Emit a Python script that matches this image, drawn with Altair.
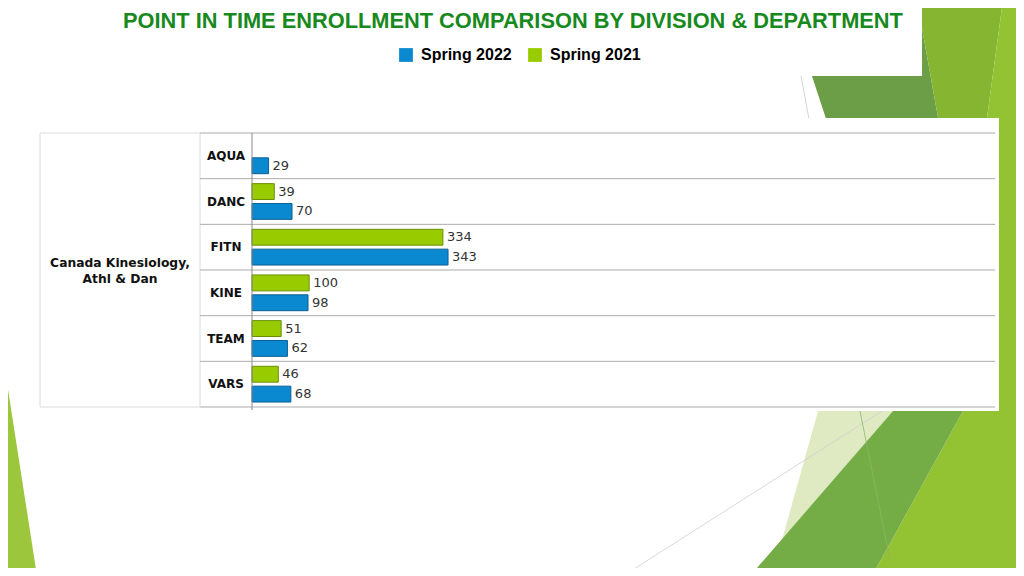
import altair as alt
import pandas as pd

# ---------------- data ----------------
TITLE = "POINT IN TIME ENROLLMENT COMPARISON BY DIVISION & DEPARTMENT"
DIVISION = ["Canada Kinesiology,", "Athl & Dan"]
DEPTS = ["AQUA", "DANC", "FITN", "KINE", "TEAM", "VARS"]
SERIES = ["Spring 2022", "Spring 2021"]
SPRING_2022 = [29, 70, 343, 98, 62, 68]
SPRING_2021 = [None, 39, 334, 100, 51, 46]

# decorative slide background shapes (page pixels): rows of (y, x_left, x_right)
DECOR_SHAPES = [
    ("dark",   "#6c9d47", [(0, 787, 917), (140, 833, 942)]),
    ("olive",  "#86b531", [(0, 917, 1003), (140, 942, 984)]),
    ("bright", "#93c233", [(0, 1003, 1024), (140, 984, 1024), (411, 963, 1024), (576, 872, 1024)]),
    ("pale",   "#dfeac3", [(411, 818, 893), (540, 782, 782)]),
    ("mid",    "#74ad46", [(411, 893, 963), (576, 750, 872)]),
    ("left",   "#9cc63b", [(338, 0, 0), (576, 0, 37)]),
]

BLUE, BLUE_EDGE = "#0a88d0", "#0e5f96"
GREEN, GREEN_EDGE = "#99cc00", "#6b8f00"

rows = []
for d, a, b in zip(DEPTS, SPRING_2022, SPRING_2021):
    rows.append({"dept": d, "series": "Spring 2022", "value": a})
    if b is not None:
        rows.append({"dept": d, "series": "Spring 2021", "value": b})
df = pd.DataFrame(rows)
dept_df = pd.DataFrame({"dept": DEPTS})
one = pd.DataFrame({"k": [0]})

# plot geometry
W, H = 743, 274
OX, OY = 252, 133  # page position of plot origin

drows = []
for name, col, pts in DECOR_SHAPES:
    for (yy, xl, xr) in pts:
        drows.append({"shape": name, "color": col, "py": yy - OY, "pxl": xl - OX, "pxr": xr - OX})
decor_df = pd.DataFrame(drows)

# ---------------- scales ----------------
y_scale = alt.Scale(domain=DEPTS, paddingInner=0, paddingOuter=0)
yoff_scale = alt.Scale(domain=["Spring 2021", "Spring 2022"], paddingInner=0.2, paddingOuter=0.25)
x_scale = alt.Scale(domain=[0, 1300], nice=False, zero=True)

# ---------------- decoration ----------------
decor = alt.Chart(decor_df).mark_area(orient="horizontal", interpolate="linear").encode(
    y=alt.Y("py:Q", scale=None, axis=None),
    x=alt.X("pxl:Q", scale=None, axis=None, stack=None),
    x2="pxr:Q",
    detail="shape:N",
    color=alt.Color("color:N", scale=None),
)

def seg(x1, y1, x2, y2, color, w=1.0):
    return alt.Chart(one).mark_rule(color=color, strokeWidth=w).encode(
        x=alt.value(x1 - OX), y=alt.value(y1 - OY), x2=alt.value(x2 - OX), y2=alt.value(y2 - OY)
    )

def box(x1, y1, x2, y2, color="white"):
    return alt.Chart(one).mark_rect(color=color).encode(
        x=alt.value(x1 - OX), y=alt.value(y1 - OY), x2=alt.value(x2 - OX), y2=alt.value(y2 - OY)
    )

thin1 = seg(801, 76, 811, 130, "#c9c9c9", 0.8)
thin2 = seg(623, 576, 882, 411, "#cfcfcf", 0.8)
thin3 = seg(860, 411, 890, 560, "#8fb56a", 0.8)

title_box = box(100, 0, 922, 76)
chart_box = box(36, 118, 999, 411)

# ---------------- table lines ----------------
LIGHT, MIDG, AXISG = "#dcdcdc", "#ababab", "#8a8a8a"
row_rules = alt.Chart(dept_df).mark_rule(color=MIDG, strokeWidth=1).encode(
    y=alt.Y("dept:N", scale=y_scale, axis=None, bandPosition=0),
    x=alt.value(-52), x2=alt.value(W),
)
bottom_plot = alt.Chart(one).mark_rule(color=MIDG).encode(x=alt.value(-52), x2=alt.value(W), y=alt.value(H))
top_div = alt.Chart(one).mark_rule(color=LIGHT).encode(x=alt.value(-212), x2=alt.value(-52), y=alt.value(0))
bottom_div = alt.Chart(one).mark_rule(color=LIGHT).encode(x=alt.value(-212), x2=alt.value(-52), y=alt.value(H))
v_left = alt.Chart(one).mark_rule(color=LIGHT).encode(x=alt.value(-212), y=alt.value(0), y2=alt.value(H))
v_mid = alt.Chart(one).mark_rule(color=LIGHT).encode(x=alt.value(-52), y=alt.value(0), y2=alt.value(H))
v_axis = alt.Chart(one).mark_rule(color=AXISG).encode(x=alt.value(0), y=alt.value(0), y2=alt.value(H + 3))

# ---------------- bars ----------------
bars = alt.Chart(df).mark_bar(strokeWidth=1).encode(
    y=alt.Y("dept:N", scale=y_scale, axis=None),
    yOffset=alt.YOffset("series:N", scale=yoff_scale),
    x=alt.X("value:Q", scale=x_scale, axis=None),
    color=alt.Color(
        "series:N",
        scale=alt.Scale(domain=SERIES, range=[BLUE, GREEN]),
        legend=alt.Legend(
            title=None, orient="none", legendX=146, legendY=-86, direction="horizontal",
            symbolType="square", symbolSize=190, symbolStrokeWidth=0, symbolOpacity=1,
            labelFont="Liberation Sans", labelFontWeight="bold", labelFontSize=16,
            labelColor="#000000", labelOffset=7, columnPadding=15, padding=0,
        ),
    ),
    stroke=alt.Stroke("series:N", scale=alt.Scale(domain=SERIES, range=[BLUE_EDGE, GREEN_EDGE]), legend=None),
)

labels = alt.Chart(df).mark_text(
    align="left", baseline="middle", dx=4, font="DejaVu Sans", fontSize=13, color="#333333"
).encode(
    y=alt.Y("dept:N", scale=y_scale, axis=None),
    yOffset=alt.YOffset("series:N", scale=yoff_scale),
    x=alt.X("value:Q", scale=x_scale, axis=None),
    text=alt.Text("value:Q"),
)

dept_labels = alt.Chart(dept_df).mark_text(
    align="center", baseline="middle", font="DejaVu Sans", fontWeight="bold", fontSize=12, color="#111111"
).encode(
    y=alt.Y("dept:N", scale=y_scale, axis=None),
    x=alt.value(-26),
    text="dept:N",
)

division_label = alt.Chart(one).mark_text(
    text=DIVISION, align="center", baseline="middle", lineHeight=16,
    font="DejaVu Sans", fontWeight="bold", fontSize=12.3, color="#111111",
).encode(x=alt.value(120 - OX), y=alt.value(263 - OY))

title = alt.Chart(one).mark_text(
    text=TITLE, align="center", baseline="alphabetic", font="Liberation Sans",
    fontWeight="bold", fontSize=21.8, color="#17891d",
).encode(x=alt.value(513 - OX), y=alt.value(28 - OY))

main = alt.layer(row_rules, bars, labels, dept_labels)

chart = alt.layer(
    decor, thin1, thin2, thin3, title_box, chart_box,
    top_div, bottom_div, bottom_plot, v_left, v_mid,
    main, v_axis, division_label, title,
).resolve_scale(x="independent", y="independent").properties(
    width=W, height=H,
    autosize=alt.AutoSizeParams(type="none"),
    padding={"left": OX - 8, "top": OY - 8, "right": 1008 - (OX - 8) - W, "bottom": 560 - (OY - 8) - H},
    background="white",
).configure_view(stroke=None)

chart.save("out.html", embed_options={"renderer": "svg", "actions": False})
